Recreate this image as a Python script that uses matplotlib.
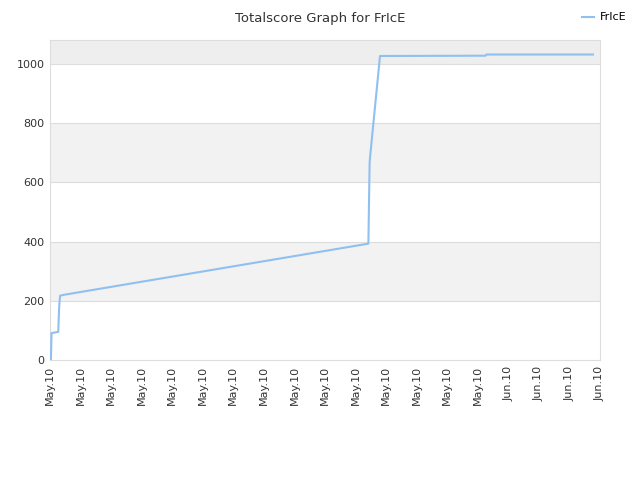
import matplotlib
matplotlib.use("Agg")
import matplotlib.pyplot as plt

# score history (x in tick units along the date axis)
x_pos = [0, 0.03, 0.05, 0.27, 0.30, 0.33, 0.44, 10.42, 10.44, 10.46, 10.47, 10.80, 14.26, 14.28, 17.77]
scores = [0, 0, 91, 95, 180, 217, 220, 393, 530, 665, 680, 1027, 1028, 1032, 1032]

tick_labels = ["May.10"] * 15 + ["Jun.10"] * 4
y_ticks = [0, 200, 400, 600, 800, 1000]

fig = plt.figure(figsize=(6.4, 4.8), dpi=100)
ax = fig.add_axes([50 / 640, 120 / 480, 550 / 640, 320 / 480])

ymax = 1081
# alternating background bands
for lo, hi, c in [(200, 400, "#f2f2f2"), (600, 800, "#f2f2f2"), (1000, ymax, "#eeeeee")]:
    ax.axhspan(lo, hi, color=c, zorder=0, lw=0)
for y in y_ticks[1:]:
    ax.axhline(y, color="#dddddd", lw=0.8, zorder=1)

ax.plot(x_pos, scores, color="#90c0f0", lw=1.5, zorder=3, label="FrIcE")

ax.set_xlim(0, 18)
ax.set_ylim(0, ymax)
ax.set_xticks(range(len(tick_labels)))
ax.set_xticklabels(tick_labels, rotation=90, fontsize=8, color="#333333")
ax.set_yticks(y_ticks)
ax.set_yticklabels([str(v) for v in y_ticks], fontsize=8, color="#333333")
ax.tick_params(length=0, pad=4)
for s in ax.spines.values():
    s.set_color("#dddddd")
    s.set_linewidth(0.8)

fig.text(0.5, 0.975, "Totalscore Graph for FrIcE", ha="center", va="top", fontsize=9.5, color="#333333")
fig.legend(loc="upper right", bbox_to_anchor=(0.995, 0.995), frameon=False, fontsize=8,
           handlelength=1.0, handletextpad=0.6)

fig.savefig("out.png", dpi=100)
